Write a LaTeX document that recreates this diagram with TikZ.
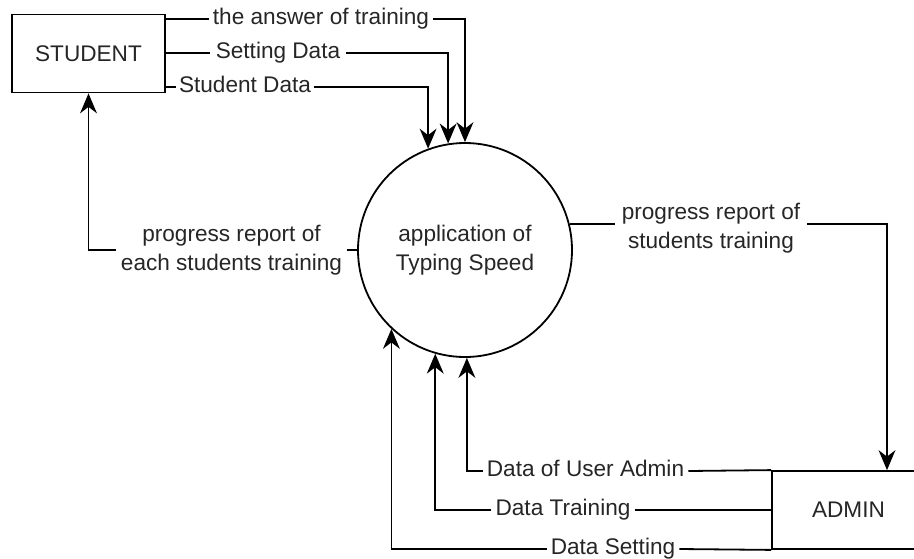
\documentclass[tikz,border=0pt]{standalone}
\usepackage{fontspec}
\setmainfont{Liberation Sans}
\usetikzlibrary{arrows.meta}
\begin{document}
\begin{tikzpicture}[x=1pt,y=-1pt,
  every node/.style={font=\fontsize{22.6}{28.5}\selectfont, text=black!85},
  entity/.style={draw, line width=1.8pt, minimum width=153pt, minimum height=78pt, inner sep=0pt},
  procnode/.style={draw, circle, line width=1.8pt, minimum size=214pt, inner sep=0pt, align=center},
  flowlabel/.style={inner xsep=4pt, inner ysep=1pt, text height=16pt, text depth=4.5pt},
  flowlabel2/.style={inner xsep=5pt, inner ysep=1pt, align=center},
  flow/.style={line width=1.8pt},
  arr/.style={line width=1.8pt, -{Stealth[length=20pt,width=17pt,inset=6.5pt,line width=0pt]}}]
\clip (0,0) rectangle (914,558);
\fill[white] (0,0) rectangle (914,558);

\node[entity] (student) at (88.5,53.5) {STUDENT};
\node[entity] (admin) at (848.5,510) {ADMIN};
\node[procnode] (proc) at (465,250) {application of\\Typing Speed};

% labels
\node[flowlabel] (la) at (321,19) {the answer of training};
\node[flowlabel, inner xsep=6pt] (lb) at (278,53) {Setting Data};
\node[flowlabel, inner xsep=3pt] (lc) at (245,87) {Student Data};
\node[flowlabel2] (ld) at (231.5,250) {progress report of\\each students training};
\node[flowlabel2, inner xsep=7pt] (le) at (711,228) {progress report of\\students training};
\node[flowlabel] (lf) at (585.5,471) {Data of User Admin};
\node[flowlabel] (lg) at (563,510) {Data Training};
\node[flowlabel] (lh) at (613,549) {Data Setting};

% student -> process
\draw[flow] (student.east |- la) -- (la.west);
\draw[arr] (la.east) -| (proc.90);
\draw[flow] (student.east |- lb) -- (lb.west);
\draw[arr] (lb.east) -| (proc.99.7);
\draw[flow] (student.east |- lc) -- (lc.west);
\draw[arr] (lc.east) -| (proc.110.2);

% process -> student
\draw[flow] (proc.west) -- (ld.east);
\draw[arr] (ld.west) -| (student.south);

% process -> admin
\coordinate (adminin) at ([xshift=38.5pt]admin.north);
\draw[flow] (proc.14.6) -- (le.west |- proc.14.6);
\draw[arr] (le.east |- proc.14.6) -| (adminin);

% admin -> process
\draw[flow] (admin.north west) -- (lf.east);
\draw[arr] (lf.west) -| (proc.271);
\draw[flow] (admin.west) -- (lg.east);
\draw[arr] (lg.west) -| (proc.254.8);
\draw[flow] (admin.south west) -- (lh.east);
\draw[arr] (lh.west) -| (proc.227.7);
\end{tikzpicture}
\end{document}
